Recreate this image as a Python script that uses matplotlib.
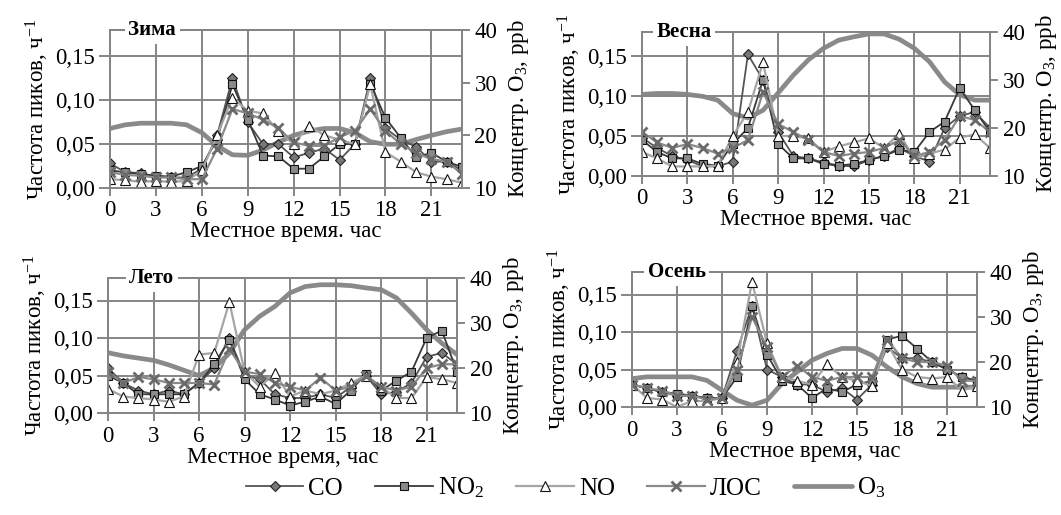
import matplotlib
matplotlib.use("Agg")
import matplotlib.pyplot as plt

plt.rcParams["font.family"] = "serif"
plt.rcParams["font.serif"] = ["Liberation Serif", "DejaVu Serif"]
plt.rcParams["mathtext.fontset"] = "custom"
plt.rcParams["mathtext.rm"] = "Liberation Serif"
plt.rcParams["mathtext.it"] = "Liberation Serif:italic"
SERIF = "Liberation Serif"

HOURS = list(range(24))

# --- Зима ---
WIN_CO = [0.028, 0.018, 0.017, 0.013, 0.012, 0.012, 0.022, 0.060, 0.125, 0.075, 0.050, 0.050,
          0.035, 0.040, 0.045, 0.032, 0.050, 0.125, 0.068, 0.055, 0.047, 0.030, 0.030, 0.020]
WIN_NO2 = [0.020, 0.018, 0.016, 0.014, 0.013, 0.018, 0.025, 0.055, 0.118, 0.078, 0.037, 0.036,
           0.022, 0.022, 0.036, 0.050, 0.050, 0.119, 0.080, 0.057, 0.035, 0.040, 0.030, 0.024]
WIN_NO = [0.010, 0.009, 0.007, 0.008, 0.007, 0.008, 0.020, 0.060, 0.103, 0.088, 0.085, 0.065,
          0.050, 0.071, 0.060, 0.055, 0.050, 0.118, 0.041, 0.030, 0.018, 0.013, 0.010, 0.006]
WIN_VOC = [0.018, 0.015, 0.014, 0.012, 0.012, 0.010, 0.010, 0.045, 0.090, 0.085, 0.078, 0.068,
           0.052, 0.048, 0.048, 0.058, 0.065, 0.090, 0.065, 0.050, 0.040, 0.033, 0.030, 0.016]
WIN_O3 = [21.3, 22.0, 22.3, 22.3, 22.3, 22.0, 20.5, 18.0, 16.3, 16.2, 17.2, 18.7,
          20.0, 20.8, 21.3, 21.3, 20.5, 18.8, 18.3, 18.3, 19.2, 20.0, 20.7, 21.2]

# --- Весна ---
SPR_CO = [0.048, 0.035, 0.025, 0.020, 0.012, 0.012, 0.018, 0.152, 0.120, 0.055, 0.025, 0.022,
          0.017, 0.013, 0.012, 0.020, 0.025, 0.035, 0.025, 0.018, 0.060, 0.075, 0.080, 0.060]
SPR_NO2 = [0.045, 0.030, 0.022, 0.022, 0.015, 0.013, 0.040, 0.060, 0.120, 0.040, 0.022, 0.022,
           0.015, 0.013, 0.015, 0.020, 0.025, 0.033, 0.030, 0.055, 0.068, 0.110, 0.082, 0.055]
SPR_NO = [0.030, 0.022, 0.012, 0.012, 0.012, 0.013, 0.050, 0.080, 0.142, 0.050, 0.050, 0.047,
          0.030, 0.037, 0.042, 0.047, 0.035, 0.053, 0.022, 0.028, 0.033, 0.048, 0.052, 0.035]
SPR_VOC = [0.055, 0.042, 0.035, 0.040, 0.035, 0.028, 0.035, 0.045, 0.105, 0.065, 0.055, 0.045,
           0.030, 0.025, 0.028, 0.030, 0.035, 0.045, 0.025, 0.030, 0.045, 0.075, 0.070, 0.055]
SPR_O3 = [27.0, 27.2, 27.2, 27.0, 26.6, 25.8, 23.0, 22.1, 23.7, 27.3, 31.0, 34.2,
          36.6, 38.3, 39.0, 39.6, 39.6, 38.5, 36.6, 33.8, 29.6, 26.9, 25.8, 25.8]

# --- Лето ---
SUM_CO = [0.060, 0.040, 0.030, 0.025, 0.030, 0.025, 0.040, 0.060, 0.100, 0.050, 0.045, 0.025,
          0.020, 0.020, 0.025, 0.020, 0.035, 0.050, 0.025, 0.028, 0.040, 0.075, 0.080, 0.065]
SUM_NO2 = [0.050, 0.040, 0.025, 0.025, 0.025, 0.025, 0.040, 0.065, 0.098, 0.045, 0.025, 0.018,
           0.010, 0.015, 0.022, 0.012, 0.030, 0.052, 0.030, 0.043, 0.055, 0.100, 0.110, 0.055]
SUM_NO = [0.032, 0.022, 0.020, 0.018, 0.015, 0.022, 0.078, 0.080, 0.148, 0.055, 0.035, 0.053,
          0.022, 0.030, 0.025, 0.030, 0.040, 0.050, 0.035, 0.020, 0.020, 0.048, 0.045, 0.040]
SUM_VOC = [0.055, 0.040, 0.048, 0.045, 0.040, 0.040, 0.040, 0.038, 0.085, 0.055, 0.052, 0.040,
           0.035, 0.030, 0.047, 0.030, 0.035, 0.050, 0.035, 0.030, 0.035, 0.060, 0.065, 0.065]
SUM_O3 = [23.4, 22.7, 22.2, 21.7, 20.7, 19.5, 18.3, 20.0, 23.3, 28.5, 31.5, 33.7,
          36.7, 38.1, 38.5, 38.5, 38.3, 37.8, 37.4, 35.6, 32.2, 28.5, 25.5, 23.0]

# --- Осень ---
AUT_CO = [0.030, 0.025, 0.020, 0.015, 0.015, 0.012, 0.012, 0.075, 0.135, 0.050, 0.040, 0.030,
          0.030, 0.020, 0.025, 0.010, 0.030, 0.080, 0.065, 0.065, 0.060, 0.050, 0.040, 0.035]
AUT_NO2 = [0.030, 0.025, 0.020, 0.018, 0.015, 0.012, 0.012, 0.040, 0.135, 0.070, 0.035, 0.030,
           0.012, 0.025, 0.020, 0.030, 0.035, 0.090, 0.095, 0.078, 0.060, 0.050, 0.040, 0.035]
AUT_NO = [0.030, 0.012, 0.010, 0.000, 0.008, 0.008, 0.012, 0.060, 0.167, 0.085, 0.040, 0.035,
          0.030, 0.057, 0.040, 0.035, 0.028, 0.085, 0.050, 0.040, 0.038, 0.040, 0.022, 0.028]
AUT_VOC = [0.030, 0.025, 0.022, 0.015, 0.015, 0.010, 0.012, 0.050, 0.120, 0.080, 0.040, 0.055,
           0.040, 0.035, 0.040, 0.040, 0.040, 0.090, 0.065, 0.060, 0.060, 0.055, 0.035, 0.035]
AUT_O3 = [16.3, 16.7, 16.7, 16.7, 16.7, 15.9, 13.7, 11.5, 10.4, 11.5, 15.2, 17.8,
          20.4, 21.9, 23.0, 23.0, 21.5, 18.9, 16.7, 15.2, 14.4, 14.4, 14.4, 14.4]

SEASONS = ["Зима", "Весна", "Лето", "Осень"]
XLABELS = ["Местное время. час", "Местное время. час",
           "Местное время, час", "Местное время, час"]
PANELS = [
    (WIN_CO, WIN_NO2, WIN_NO, WIN_VOC, WIN_O3),
    (SPR_CO, SPR_NO2, SPR_NO, SPR_VOC, SPR_O3),
    (SUM_CO, SUM_NO2, SUM_NO, SUM_VOC, SUM_O3),
    (AUT_CO, AUT_NO2, AUT_NO, AUT_VOC, AUT_O3),
]
YTICKS = [0.0, 0.05, 0.10, 0.15]
YTICKLABELS = ["0,00", "0,05", "0,10", "0,15"]
O3_TICKS = [10, 20, 30, 40]

W, H = 1061, 515
# panel frames in pixels: left, right, top, bottom
BOXES = [(110, 462, 30, 188), (642, 990, 32, 176),
         (108, 457, 278, 413), (632, 977, 272, 407)]
TITLE_X = [0.12, 0.12, 0.125, 0.13]

GRID = "#858585"
FS = 16.5

fig = plt.figure(figsize=(W / 100, H / 100), dpi=100)

handles = None
for k, (season, data) in enumerate(zip(SEASONS, PANELS)):
    l, r, t, b = BOXES[k]
    ax = fig.add_axes([l / W, 1 - b / H, (r - l) / W, (b - t) / H])
    co, no2, no, voc, o3 = data

    ax2 = ax.twinx()
    ax2.set_zorder(ax.get_zorder() - 1)
    ax.patch.set_visible(False)

    h_o3, = ax2.plot(HOURS, o3, color="#8a8a8a", lw=3.4, solid_capstyle="round",
                     label="O$_3$")
    h_co, = ax.plot(HOURS, co, color="#555555", lw=1.3, marker="D", ms=5,
                    mfc="#777777", mec="#222222", mew=0.8, label="CO")
    h_no2, = ax.plot(HOURS, no2, color="#3a3a3a", lw=1.3, marker="s", ms=5.5,
                     mfc="#8a8a8a", mec="#111111", mew=0.8, label="NO$_2$")
    h_no, = ax.plot(HOURS, no, color="#a5a5a5", lw=1.6, marker="^", ms=6.5,
                    mfc="white", mec="#111111", mew=0.8, label="NO")
    h_voc, = ax.plot(HOURS, voc, color="#8a8a8a", lw=1.6, marker="x", ms=6.5,
                     mec="#6a6a6a", mew=2.0, label="ЛОС")
    handles = [h_co, h_no2, h_no, h_voc, h_o3]

    ax.set_xlim(0, 23)
    ax.set_ylim(0, 0.18)
    ax2.set_ylim(10, 40)
    ax.set_xticks(range(0, 24, 3))
    ax.set_yticks(YTICKS)
    ax.set_yticklabels(YTICKLABELS)
    ax2.set_yticks(O3_TICKS)

    ax.grid(True, color=GRID, lw=1.4)
    for a in (ax, ax2):
        for s in a.spines.values():
            s.set_color(GRID)
            s.set_linewidth(1.4)
        a.tick_params(direction="out", color=GRID, width=1.4, length=6,
                      labelsize=FS, pad=3)
    ax.tick_params(axis="y", length=8)

    ax.set_xlabel(XLABELS[k], fontsize=FS, labelpad=0)
    ax.set_ylabel("Частота пиков, ч$^{-1}$", fontsize=FS, labelpad=3)
    ax2.set_ylabel("Концентр. O$_3$, ppb", fontsize=FS, labelpad=6)

    ax.text(TITLE_X[k], 1.0, season, transform=ax.transAxes, ha="center",
            va="center", fontsize=15, fontweight="bold", zorder=10,
            bbox=dict(facecolor="white", edgecolor="none", pad=2.5))

fig.legend(handles=handles, labels=[h.get_label() for h in handles],
           loc="lower center", bbox_to_anchor=(0.533, -0.015), ncol=5,
           frameon=False, handlelength=2.3, columnspacing=1.3,
           handletextpad=0.2, prop={"family": SERIF, "size": 18})

fig.savefig("out.png", dpi=100)
